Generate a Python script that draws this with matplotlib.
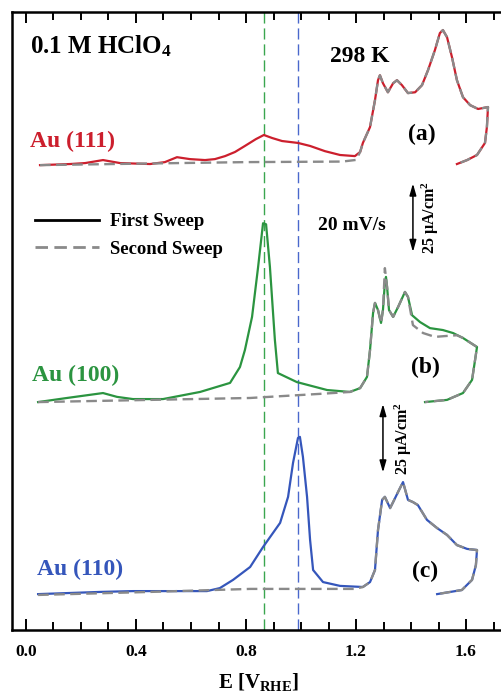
import numpy as np
import matplotlib
matplotlib.use("Agg")
import matplotlib.pyplot as plt
from matplotlib.lines import Line2D
from matplotlib.ticker import MultipleLocator, FormatStrFormatter

plt.rcParams['font.family'] = ['Liberation Serif', 'DejaVu Serif']
plt.rcParams['font.weight'] = 'bold'
plt.rcParams['axes.labelweight'] = 'bold'
plt.rcParams['mathtext.default'] = 'regular'

# potentials (V vs RHE) and current densities (uA/cm2) read per crystal face
# Au(111)
a1_E = [0.051, 0.16, 0.215, 0.28, 0.342, 0.451, 0.505, 0.549, 0.596, 0.651,
        0.687, 0.724, 0.76, 0.796, 0.836, 0.865, 0.895, 0.931, 0.989, 1.033,
        1.087, 1.142, 1.196, 1.215, 1.225, 1.251, 1.269, 1.28, 1.287, 1.298,
        1.316, 1.335, 1.349, 1.367, 1.389, 1.415, 1.44, 1.462, 1.487, 1.505,
        1.516, 1.531, 1.549, 1.567, 1.589, 1.615, 1.644, 1.68, 1.676, 1.669,
        1.64, 1.604, 1.567]
a1_j = [-0.3, 0.1, 0.45, 1.55, 0.45, 0.1, 0.8, 2.6, 1.9, 1.55,
        1.9, 3.0, 4.5, 6.7, 9.2, 10.7, 9.6, 8.5, 7.8, 6.7,
        4.8, 3.4, 3.0, 4.5, 7.8, 13.6, 23.4, 30.7, 32.5, 29.6,
        26.3, 29.6, 30.7, 28.9, 26.0, 26.3, 28.9, 34.4, 41.7, 47.9,
        49.0, 46.4, 39.1, 30.7, 24.5, 21.6, 20.2, 20.9, 13.6, 7.8,
        3.4, 1.55, 0.1]
a2_dl_E = [0.051, 0.45, 0.8, 1.15, 1.2]
a2_dl_j = [-0.3, 0.3, 0.8, 1.0, 1.6]

# Au(100)
b1_E = [0.044, 0.149, 0.28, 0.331, 0.389, 0.498, 0.633, 0.742, 0.778, 0.796,
        0.822, 0.844, 0.862, 0.873, 0.887, 0.905, 0.916, 0.985, 1.095, 1.178,
        1.215, 1.24, 1.251, 1.262, 1.269, 1.28, 1.291, 1.298, 1.305, 1.309,
        1.313, 1.32, 1.335, 1.353, 1.378, 1.389, 1.404, 1.433, 1.469, 1.516,
        1.553, 1.589, 1.64, 1.633, 1.622, 1.589, 1.531, 1.451]
b1_j = [-0.8, 0.7, 2.5, 1.1, 0.3, 0.3, 2.9, 6.2, 12.0, 18.2,
        30.3, 48.5, 64.5, 64.1, 48.5, 21.9, 9.8, 6.5, 3.6, 2.9,
        4.3, 8.4, 18.2, 31.7, 35.4, 32.8, 28.1, 32.8, 42.7, 44.9,
        41.2, 32.8, 30.3, 33.9, 39.4, 37.6, 30.9, 28.4, 26.2, 25.5,
        24.4, 22.6, 19.3, 14.6, 7.3, 2.5, 0.0, -0.8]
b2_E = [0.044, 0.451, 0.815, 1.069, 1.178, 1.215, 1.24, 1.251, 1.262, 1.269,
        1.28, 1.291, 1.298, 1.305, 1.313, 1.32, 1.335, 1.353, 1.378, 1.389,
        1.407, 1.444, 1.487, 1.524, 1.567, 1.589, 1.64, 1.633, 1.622, 1.589,
        1.531, 1.451]
b2_j = [-0.8, 0.0, 0.7, 2.2, 2.9, 4.3, 8.4, 18.2, 31.7, 35.4,
        32.8, 28.1, 32.8, 48.1, 41.2, 32.8, 30.3, 33.9, 39.4, 37.6,
        27.3, 24.4, 23.0, 23.3, 23.6, 22.6, 19.3, 14.6, 7.3, 2.5,
        0.0, -0.8]

# Au(110)
c1_E = [0.044, 0.269, 0.389, 0.513, 0.658, 0.705, 0.753, 0.815, 0.862, 0.924,
        0.953, 0.971, 0.989, 0.996, 1.007, 1.022, 1.033, 1.044, 1.08, 1.142,
        1.225, 1.251, 1.269, 1.28, 1.295, 1.305, 1.324, 1.335, 1.353, 1.371,
        1.389, 1.407, 1.425, 1.458, 1.495, 1.531, 1.567, 1.604, 1.64, 1.636,
        1.622, 1.585, 1.495]
c1_j = [-1.4, -0.6, -0.3, -0.3, -0.3, 0.8, 3.8, 8.5, 15.8, 24.6,
        34.1, 46.5, 55.6, 56.0, 48.7, 34.1, 18.4, 7.4, 3.0, 1.6,
        1.2, 3.0, 7.4, 22.0, 33.0, 34.1, 30.0, 32.2, 35.9, 39.5,
        33.0, 32.2, 31.1, 25.7, 22.7, 20.2, 16.5, 15.1, 14.7, 9.2,
        3.8, 0.1, -1.4]
c2_dl_E = [0.044, 0.451, 0.815, 1.196]
c2_dl_j = [-1.7, -0.6, 0.5, 0.5]

offsets = [170, 84, 14.5]
face_labels = ['Au (111)', 'Au (100)', 'Au (110)']
panel_tags = ['(a)', '(b)', '(c)']
colors = ['#cc1f2d', '#2b9440', '#3556bb']
gray = '#8a8a8a'
E_marks = [0.865, 0.99]


def join_second(dl_E, dl_j, E1, j1, e_join):
    # second sweep: own double-layer part, identical to the first sweep above e_join
    E1, j1 = np.asarray(E1), np.asarray(j1)
    keep = E1 >= e_join
    return np.concatenate([dl_E, E1[keep]]), np.concatenate([dl_j, j1[keep]])


a2_E, a2_j = join_second(a2_dl_E, a2_dl_j, a1_E, a1_j, 1.21)
c2_E, c2_j = join_second(c2_dl_E, c2_dl_j, c1_E, c1_j, 1.22)

first = [(a1_E, a1_j), (b1_E, b1_j), (c1_E, c1_j)]
second = [(a2_E, a2_j), (b2_E, b2_j), (c2_E, c2_j)]

fig = plt.figure(figsize=(5.01, 6.97), dpi=100)
ax = fig.add_axes([12 / 501, 67 / 697, 493 / 501, 618 / 697])

for E, col in zip(E_marks, ['#3aa64f', '#4a68cc']):
    ax.axvline(E, color=col, lw=1.0, ls=(0, (8, 3.5)), zorder=1)

for (E1, j1), (E2, j2), off, col in zip(first, second, offsets, colors):
    ax.plot(E1, np.asarray(j1) + off, color=col, lw=1.6, zorder=2)
    ax.plot(E2, np.asarray(j2) + off, color=gray, lw=1.7, ls=(0, (4.5, 2.3)), zorder=3)

# labels for each face
ax.text(0.015, 176.3, face_labels[0], color=colors[0], fontsize=17, ha='left', va='baseline')
ax.text(0.022, 90.9, face_labels[1], color=colors[1], fontsize=17, ha='left', va='baseline')
ax.text(0.04, 20.1, face_labels[2], color=colors[2], fontsize=17, ha='left', va='baseline')
ax.text(1.44, 178.9, panel_tags[0], fontsize=17, ha='center', va='baseline')
ax.text(1.451, 93.8, panel_tags[1], fontsize=17, ha='center', va='baseline')
ax.text(1.451, 19.3, panel_tags[2], fontsize=17, ha='center', va='baseline')

ax.text(0.015, 210.6, '0.1 M HClO$_4$', fontsize=18, ha='left', va='baseline')
ax.text(1.215, 207.3, '298 K', fontsize=17, ha='center', va='baseline')
ax.text(1.185, 146.0, '20 mV/s', fontsize=14, ha='center', va='baseline')

# 25 uA/cm2 scale bars
for x_bar, y0, x_txt in [(1.407, 138.0, 1.469), (1.298, 57.5, 1.371)]:
    ax.annotate('', xy=(x_bar, y0), xytext=(x_bar, y0 + 25),
                arrowprops=dict(arrowstyle='<|-|>,head_length=0.35,head_width=0.1',
                                color='k', lw=1.1, shrinkA=0, shrinkB=0,
                                mutation_scale=20))
    ax.text(x_txt, y0 + 12.5, '25 µA/cm$^2$', fontsize=11.5, rotation=90,
            ha='center', va='center')

ax.legend(handles=[Line2D([], [], color='k', lw=2),
                   Line2D([], [], color=gray, lw=2, ls=(0, (4.5, 2.3)))],
          labels=['First Sweep', 'Second Sweep'], loc='upper left',
          bbox_to_anchor=(35 / 501, 1 - 213 / 697), bbox_transform=fig.transFigure,
          frameon=False, fontsize=13.5, handlelength=3.4, handletextpad=0.6,
          labelspacing=0.55, borderpad=0, borderaxespad=0)

ax.set_xlim(-0.0509, 1.7418)
ax.set_ylim(0, 225.6)
ax.set_yticks([])
ax.xaxis.set_major_locator(MultipleLocator(0.4))
ax.xaxis.set_minor_locator(MultipleLocator(0.1))
ax.xaxis.set_major_formatter(FormatStrFormatter('%.1f'))
ax.tick_params(axis='x', which='major', direction='in', top=True, length=8,
               width=1.4, labelsize=12.5, pad=10)
ax.tick_params(axis='x', which='minor', direction='in', top=True, length=5.5, width=1.4)
ax.spines['right'].set_visible(False)
for s in ['left', 'top', 'bottom']:
    ax.spines[s].set_linewidth(1.8)
ax.set_xlabel('E [V$_{RHE}$]', fontsize=15, fontweight='bold', labelpad=8)

fig.savefig('out.png', dpi=100)
